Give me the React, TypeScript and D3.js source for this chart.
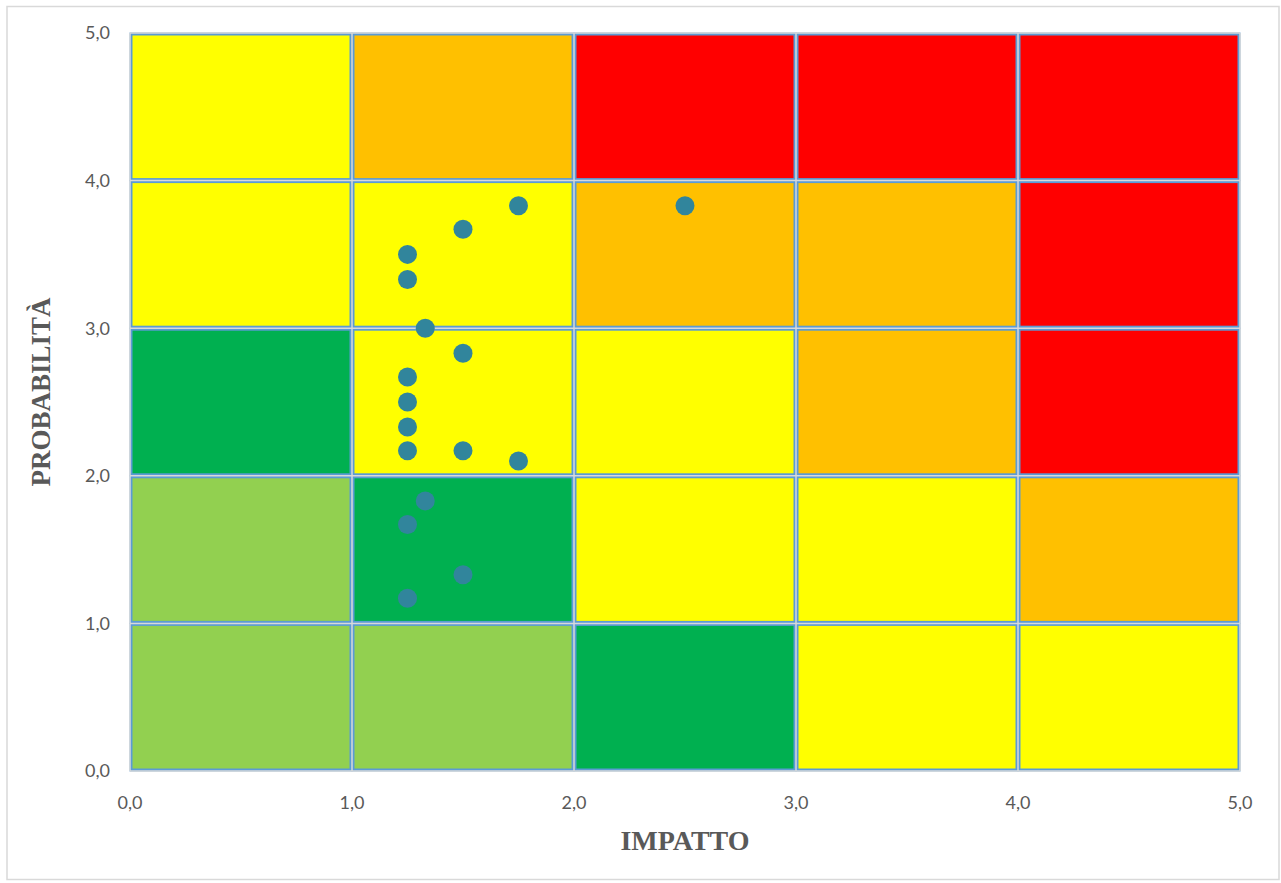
import React from "react";
import * as d3 from "d3";

const colNames = ["0-1", "1-2", "2-3", "3-4", "4-5"];
// rows listed from probability 0-1 (bottom) to 4-5 (top)
const cellColors: string[][] = [
  ["#92D050", "#92D050", "#00B050", "#FFFF00", "#FFFF00"],
  ["#92D050", "#00B050", "#FFFF00", "#FFFF00", "#FFC000"],
  ["#00B050", "#FFFF00", "#FFFF00", "#FFC000", "#FF0000"],
  ["#FFFF00", "#FFFF00", "#FFC000", "#FFC000", "#FF0000"],
  ["#FFFF00", "#FFC000", "#FF0000", "#FF0000", "#FF0000"],
];

const impatto = [1.75, 2.5, 1.5, 1.25, 1.25, 1.33, 1.5, 1.25, 1.25, 1.25, 1.25, 1.5, 1.75, 1.33, 1.25, 1.5, 1.25];
const probabilita = [3.83, 3.83, 3.67, 3.5, 3.33, 3.0, 2.83, 2.67, 2.5, 2.33, 2.17, 2.17, 2.1, 1.83, 1.67, 1.33, 1.17];

const ticks = [0, 1, 2, 3, 4, 5];

export default function App() {
  const W = 1281, H = 883;
  const left = 130, right = 1240, top = 33, bottom = 771;
  const x = d3.scaleLinear().domain([0, 5]).range([left, right]);
  const y = d3.scaleLinear().domain([0, 5]).range([bottom, top]);
  const fmt = (v: number) => d3.format(".1f")(v).replace(".", ",");
  const tickFont = "Lato, 'Open Sans', sans-serif";
  const grey = "#595959";

  return (
    <svg width={W} height={H} style={{ position: "absolute", left: 0, top: 0, background: "#fff" }}>
      <rect x={7} y={6.5} width={1272} height={873} fill="#fff" stroke="#D9D9D9" strokeWidth={1.5} />
      {cellColors.map((row, ri) =>
        row.map((c, ci) => (
          <rect
            key={`${ri}-${ci}`}
            x={x(ci) + 1}
            y={y(ri + 1) + 1}
            width={x(ci + 1) - x(ci) - 2}
            height={y(ri) - y(ri + 1) - 2}
            fill={c}
            stroke="#5B9BD5"
            strokeWidth={3}
          />
        ))
      )}
      {ticks.map((t) => (
        <line key={`gy${t}`} x1={left} x2={right} y1={y(t)} y2={y(t)} stroke="#D9D9D9" strokeWidth={1.5} />
      ))}
      {ticks.map((t) => (
        <line key={`gx${t}`} x1={x(t)} x2={x(t)} y1={top} y2={bottom} stroke="#D9D9D9" strokeWidth={1.5} />
      ))}
      {impatto.map((v, i) => (
        <circle key={`p${i}`} cx={x(v)} cy={y(probabilita[i])} r={9.5} fill="#31859C" />
      ))}
      {ticks.map((t) => (
        <text key={`yl${t}`} x={left - 20} y={y(t)} dy="0.35em" textAnchor="end" fontFamily={tickFont} fontSize={18} fill={grey}>
          {fmt(t)}
        </text>
      ))}
      {ticks.map((t) => (
        <text key={`xl${t}`} x={x(t)} y={809} textAnchor="middle" fontFamily={tickFont} fontSize={18} fill={grey}>
          {fmt(t)}
        </text>
      ))}
      <text x={685} y={850} textAnchor="middle" fontFamily="'Liberation Serif', 'DejaVu Serif', serif" fontWeight="bold" fontSize={28} fill={grey}>
        IMPATTO
      </text>
      <text
        transform={`translate(50, 392) rotate(-90)`}
        textAnchor="middle"
        fontFamily="'Liberation Serif', 'DejaVu Serif', serif"
        fontWeight="bold"
        fontSize={27}
        fill={grey}
      >
        PROBABILITÀ
      </text>
    </svg>
  );
}
